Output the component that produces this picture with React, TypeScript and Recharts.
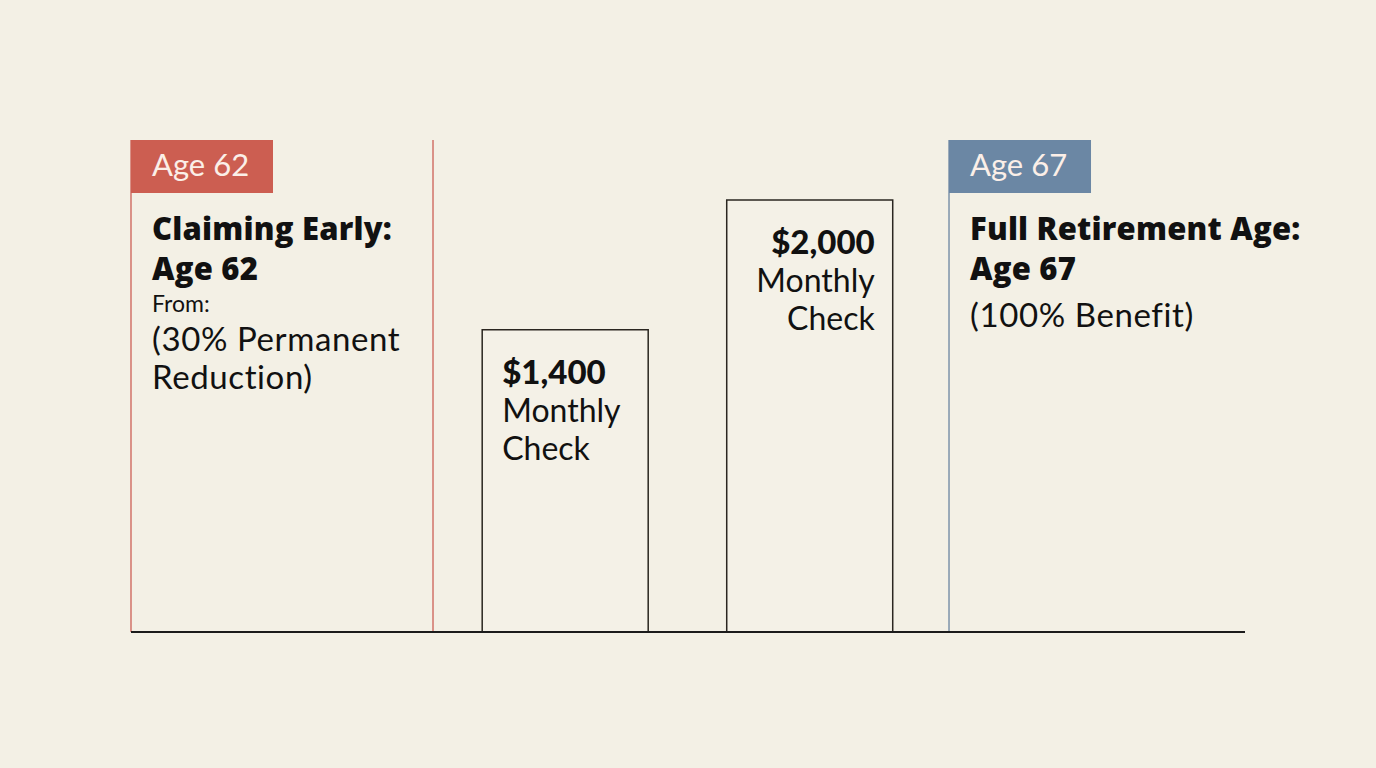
import React from "react";
import { BarChart, Bar, XAxis, YAxis, ReferenceLine, LabelList } from "recharts";

// ---- data ----
const checkLabels = ["$1,400", "$2,000"];
const monthlyValues = [1400, 2000];
const barTimeline = [39.0, 60.95]; // position of each bar along a 0-100 timeline
const checkCaption = ["Monthly", "Check"];

const panelStarts = [0, 73.43];
const panelEnds = [27.11, 100];
const panelTags = ["Age 62", "Age 67"];
const panelTitles = [
  ["Claiming Early:", "Age 62"],
  ["Full Retirement Age:", "Age 67"],
];
const panelSubheads = ["From:", ""];
const panelNotes = [["(30% Permanent", "Reduction)"], ["(100% Benefit)"]];

const Y_MAX = 2278;

const data = monthlyValues.map((v, i) => ({
  pos: barTimeline[i],
  value: v,
  label: checkLabels[i],
}));

// ---- styles ----
const BG = "#f3f0e5";
const FONT = "Lato, 'Open Sans', sans-serif";
const TITLE_FONT = "'Open Sans', Lato, sans-serif";
const INK = "#111111";
const panelTagColors = ["#cc5e51", "#6b87a4"];
const panelLineColors = ["#d37a70", "#8499ad"];

function PanelLabel(props: any) {
  const { viewBox, idx } = props;
  if (!viewBox) return null;
  const x = viewBox.x;
  const top = viewBox.y;
  const tx = x + 21;
  const sub = panelSubheads[idx];
  const cursor = top + 140;
  const notesStart = sub ? cursor + 32 + 39 : cursor + 47;
  return (
    <g>
      <rect x={x} y={top} width={142} height={53} fill={panelTagColors[idx]} />
      <text x={tx} y={top + 36} fill="#fbefe8" fontSize={31} fontWeight={400} fontFamily={FONT}>
        {panelTags[idx]}
      </text>
      {panelTitles[idx].map((t, i) => (
        <text
          key={t}
          x={tx}
          y={top + 100 + i * 40}
          fill={INK}
          fontSize={31}
          fontWeight={800}
          fontFamily={TITLE_FONT}
          letterSpacing={0.2}
        >
          {t}
        </text>
      ))}
      {sub ? (
        <text x={tx} y={cursor + 32} fill={INK} fontSize={23} fontFamily={FONT}>
          {sub}
        </text>
      ) : null}
      {panelNotes[idx].map((t, i) => (
        <text key={t} x={tx} y={notesStart + i * 38} fill={INK} fontSize={33} fontFamily={FONT} letterSpacing={0.6}>
          {t}
        </text>
      ))}
    </g>
  );
}

function CheckLabel(props: any) {
  const { x, y, width, index } = props;
  const rightAligned = index === 1;
  const tx = rightAligned ? x + width - 18 : x + 20;
  const anchor = rightAligned ? "end" : "start";
  const base = y + 54;
  return (
    <g>
      <text x={tx} y={base} textAnchor={anchor} fill={INK} fontSize={33} fontWeight={900} fontFamily={FONT}>
        {checkLabels[index]}
      </text>
      {checkCaption.map((c, i) => (
        <text key={c} x={tx} y={base + 38 * (i + 1)} textAnchor={anchor} fill={INK} fontSize={32} fontFamily={FONT}>
          {c}
        </text>
      ))}
    </g>
  );
}

export default function App() {
  return (
    <div
      style={{
        position: "absolute",
        left: 0,
        top: 0,
        width: 1376,
        height: 768,
        background: BG,
        overflow: "hidden",
      }}
    >
      <BarChart
        width={1376}
        height={768}
        data={data}
        margin={{ top: 140, left: 131, right: 131, bottom: 136 }}
      >
        <XAxis dataKey="pos" type="number" domain={[0, 100]} ticks={[0, 100]} hide />
        <YAxis type="number" domain={[0, Y_MAX]} hide />
        {panelStarts.map((p, i) => (
          <ReferenceLine
            key={"s" + i}
            x={p}
            stroke={panelLineColors[i]}
            strokeWidth={1.6}
            label={(lp: any) => <PanelLabel {...lp} idx={i} />}
          />
        ))}
        {panelEnds.slice(0, 1).map((p, i) => (
          <ReferenceLine key={"e" + i} x={p} stroke={panelLineColors[i]} strokeWidth={1.6} />
        ))}
        <Bar
          dataKey="value"
          barSize={166}
          fill="#f4f1e7"
          stroke="#2a2620"
          strokeWidth={1.5}
          isAnimationActive={false}
        >
          <LabelList dataKey="value" content={(p: any) => <CheckLabel {...p} />} />
        </Bar>
        <ReferenceLine y={0} stroke="#1b1b1b" strokeWidth={2} />
      </BarChart>
    </div>
  );
}
